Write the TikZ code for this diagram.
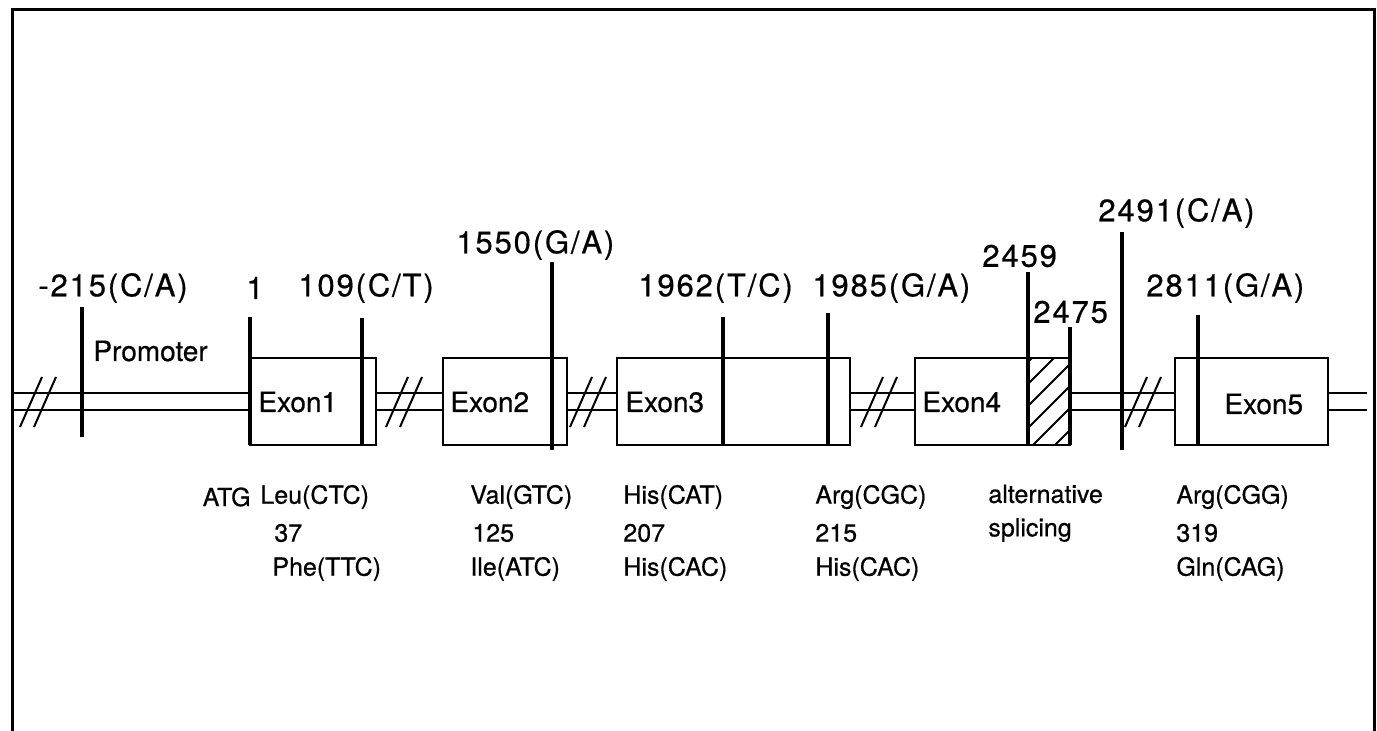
\documentclass[tikz,border=0pt]{standalone}
\usepackage{fontspec}
\setmainfont{TeX Gyre Heros}[FakeBold=0.6]
\begin{document}
\begin{tikzpicture}[x=0.5pt,y=-0.5pt,
  frame/.style={line width=1.5pt},
  dna/.style={line width=1pt},
  exonbox/.style={line width=1pt},
  mut/.style={line width=2.2pt},
  brk/.style={line width=1pt},
  toplab/.style={font=\fontsize{15.5}{18}\selectfont\addfontfeature{LetterSpace=6}, inner sep=0pt, anchor=west},
  botlab/.style={font=\fontsize{12.5}{15}\selectfont, inner sep=0pt, anchor=west},
  exlab/.style={font=\fontsize{14}{16}\selectfont, inner sep=0pt, anchor=west}]
\useasboundingbox (0,0) rectangle (1377,731);
% frame (open at the bottom)
\draw[frame] (12,731) -- (12,10) -- (1374,10) -- (1374,731);
% DNA double line
\foreach \a/\b in {12/250, 376/443, 567/617, 850/915, 1070/1175, 1328/1367}
  {\draw[dna] (\a,393) -- (\b,393) (\a,410) -- (\b,410);}
% exon boxes
\draw[exonbox] (250,358) rectangle (376,445);
\draw[exonbox] (443,358) rectangle (567,445);
\draw[exonbox] (617,358) rectangle (850,445);
\draw[exonbox] (915,358) rectangle (1070,445);
\draw[exonbox] (1175,358) rectangle (1328,445);
% hatched alternative splicing part
\begin{scope}
  \clip (1027,358) rectangle (1070,445);
  \foreach \k in {0,...,6}
    {\draw[line width=0.9pt] (1020,480-22*\k) -- (1085,415-22*\k);}
\end{scope}
% break marks
\foreach \c in {41,407,591,882,1146}
  {\draw[brk] (\c-21,427) -- (\c+1,377) (\c-7,427) -- (\c+15,377);}
% mutation / position lines
\foreach \x/\t/\b in {82/307/437, 250/317/445, 362/318/445, 552/262/450,
  723/317/445, 828/313/445, 1028/272/445, 1070/327/445, 1122/232/450, 1198/315/445}
  {\draw[mut] (\x,\t) -- (\x,\b);}
% labels on the gene
\node[exlab] (prom) at (93,351) {Promoter};
\node[exlab] (ex1) at (258,402) {Exon1};
\node[exlab] (ex2) at (450,402) {Exon2};
\node[exlab] (ex3) at (625,402) {Exon3};
\node[exlab] (ex4) at (922,402) {Exon4};
\node[exlab] (ex5) at (1224,404) {Exon5};
% top labels
\node[toplab] (p215) at (38,288) {-215(C/A)};
\node[toplab] (p1) at (246,288) {1};
\node[toplab] (p109) at (298,288) {109(C/T)};
\node[toplab] (p1550) at (456,245) {1550(G/A)};
\node[toplab] (p1962) at (638,288) {1962(T/C)};
\node[toplab] (p1985) at (812,288) {1985(G/A)};
\node[toplab] (p2459) at (982,256) {2459};
\node[toplab] (p2475) at (1033,312) {2475};
\node[toplab] (p2491) at (1098,213) {2491(C/A)};
\node[toplab] (p2811) at (1146,288) {2811(G/A)};
% bottom labels
\node[botlab, anchor=east] (atg) at (251,497) {ATG};
\node[botlab] (a1) at (260,497) {Leu(CTC)};
\node[botlab] (b1) at (274,533) {37};
\node[botlab] (c1) at (272,569) {Phe(TTC)};
\node[botlab] (a2) at (470,497) {Val(GTC)};
\node[botlab] (b2) at (472,533) {125};
\node[botlab] (c2) at (470,569) {Ile(ATC)};
\node[botlab] (a3) at (623,497) {His(CAT)};
\node[botlab] (b3) at (623,533) {207};
\node[botlab] (c3) at (623,569) {His(CAC)};
\node[botlab] (a4) at (815,497) {Arg(CGC)};
\node[botlab] (b4) at (815,533) {215};
\node[botlab] (c4) at (815,569) {His(CAC)};
\node[botlab] (a5) at (988,494) {alternative};
\node[botlab] (b5) at (988,530) {splicing};
\node[botlab] (a6) at (1176,497) {Arg(CGG)};
\node[botlab] (b6) at (1176,533) {319};
\node[botlab] (c6) at (1176,569) {Gln(CAG)};
\end{tikzpicture}
\end{document}
